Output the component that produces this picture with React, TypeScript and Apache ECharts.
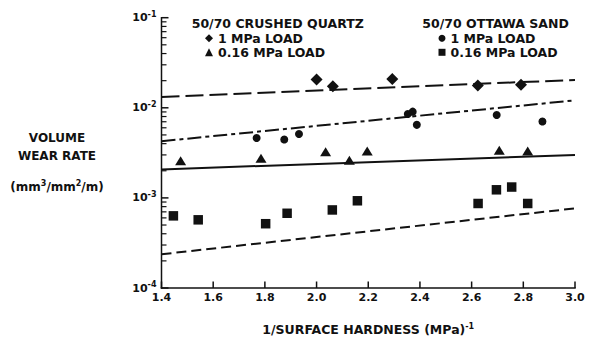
import React, { useEffect, useRef } from 'react';
import * as echarts from 'echarts';

const FONT = '"DejaVu Sans", "Liberation Sans", sans-serif';
const INK = '#111111';

// Axis tick labels
const xTickLabels = ['1.4', '1.6', '1.8', '2.0', '2.2', '2.4', '2.6', '2.8', '3.0'];
const yTickExponents = ['-4', '-3', '-2', '-1'];
const yMinorMultipliers = [2, 3, 4, 5, 6, 7, 8, 9];

// Data points [1/surface hardness, volume wear rate]
const quartz1MPa = [[2.0, 0.0206], [2.063, 0.0174], [2.293, 0.0209], [2.624, 0.0177], [2.791, 0.018]];
const quartz016MPa = [[1.474, 0.00258], [1.785, 0.00275], [2.035, 0.00326], [2.127, 0.00262], [2.196, 0.00332], [2.707, 0.00337], [2.817, 0.00332]];
const ottawa1MPa = [[1.768, 0.00463], [1.875, 0.00444], [1.932, 0.00513], [2.353, 0.00853], [2.372, 0.00906], [2.388, 0.00647], [2.697, 0.00832], [2.874, 0.00705]];
const ottawa016MPa = [[1.446, 0.000632], [1.542, 0.000571], [1.803, 0.000517], [1.886, 0.000675], [2.061, 0.000735], [2.158, 0.000929], [2.625, 0.000867], [2.696, 0.00123], [2.755, 0.00132], [2.817, 0.000867]];

// Fit lines (end points)
const fitQuartz1MPa = [[1.4, 0.0132], [3.0, 0.0204]];
const fitOttawa1MPa = [[1.4, 0.00426], [3.0, 0.0121]];
const fitQuartz016MPa = [[1.4, 0.00207], [3.0, 0.003]];
const fitOttawa016MPa = [[1.4, 0.000237], [3.0, 0.000765]];

const seriesNames = ['Quartz 1 MPa', 'Quartz 0.16 MPa', 'Ottawa 1 MPa', 'Ottawa 0.16 MPa'];
const legendLabels: Record<string, string> = {
  'Quartz 1 MPa': '1 MPa LOAD',
  'Quartz 0.16 MPa': '0.16 MPa LOAD',
  'Ottawa 1 MPa': '1 MPa LOAD',
  'Ottawa 0.16 MPa': '0.16 MPa LOAD',
};

const X_MIN = 1.4;
const X_MAX = 3.0;
const Y_MIN = 1e-4;
const Y_MAX = 1e-1;

export default function App() {
  const ref = useRef<HTMLDivElement>(null);

  useEffect(() => {
    if (!ref.current) return;
    const chart = echarts.init(ref.current, undefined, { renderer: 'svg' });

    // Axis frame marks: [x, y, kind] ; kind 0 = y major tick, 1 = y minor tick,
    // 2 = x tick, 3 = y axis line, 4 = x axis line
    const frame: number[][] = [];
    frame.push([X_MIN, Y_MIN, 3]);
    frame.push([X_MIN, Y_MIN, 4]);
    xTickLabels.forEach((t) => frame.push([Number(t), Y_MIN, 2]));
    yTickExponents.forEach((e) => {
      const decade = Math.pow(10, Number(e));
      frame.push([X_MIN, decade, 0]);
      if (decade < Y_MAX) yMinorMultipliers.forEach((m) => frame.push([X_MIN, decade * m, 1]));
    });

    const supRich = {
      s: { fontSize: 8, fontWeight: 'bold', fontFamily: FONT, color: INK, padding: [0, 0, 7, 0] },
      b: { fontSize: 11, fontWeight: 'bold', fontFamily: FONT, color: INK },
    };

    const legendText = {
      fontSize: 12.5,
      fontWeight: 'bold',
      fontFamily: FONT,
      color: INK,
      lineHeight: 14,
    };

    const fitLine = (data: number[][], type: any) => ({
      type: 'line',
      data,
      symbol: 'none',
      silent: true,
      lineStyle: { color: INK, width: 2, type },
      z: 2,
    });

    const scatter = (name: string, data: number[][], symbol: string, symbolSize: any) => ({
      name,
      type: 'scatter',
      data,
      symbol,
      symbolSize,
      itemStyle: { color: INK, opacity: 1 },
      z: 3,
    });

    const option: any = {
      animation: false,
      backgroundColor: '#ffffff',
      grid: { left: 161.5, right: 14, top: 17.7, bottom: 48.3 },
      xAxis: {
        type: 'value',
        min: X_MIN,
        max: X_MAX,
        interval: 0.2,
        axisLine: { show: false },
        axisTick: { show: false },
        splitLine: { show: false },
        axisLabel: {
          margin: 4,
          color: INK,
          fontSize: 11,
          fontWeight: 'bold',
          fontFamily: FONT,
          formatter: (v: number) => xTickLabels.find((s) => Math.abs(Number(s) - v) < 1e-6) ?? '',
        },
        name: '1/SURFACE HARDNESS (MPa){s|-1}',
        nameLocation: 'middle',
        nameGap: 34,
        nameTextStyle: {
          color: INK,
          fontSize: 12.5,
          fontWeight: 'bold',
          fontFamily: FONT,
          rich: { s: { fontSize: 8, fontWeight: 'bold', fontFamily: FONT, color: INK, padding: [0, 0, 7, 0] } },
        },
      },
      yAxis: {
        type: 'log',
        logBase: 10,
        min: Y_MIN,
        max: Y_MAX,
        axisLine: { show: false },
        axisTick: { show: false },
        minorTick: { show: false },
        splitLine: { show: false },
        axisLabel: {
          margin: 5,
          color: INK,
          formatter: (v: number) => {
            const e = yTickExponents.find((s) => Number(s) === Math.round(Math.log10(v)));
            return e ? `{b|10}{s|${e}}` : '';
          },
          rich: supRich,
        },
      },
      legend: [
        {
          data: seriesNames.slice(0, 2),
          orient: 'vertical',
          left: 205,
          top: 31.3,
          padding: 0,
          itemGap: 0,
          itemWidth: 8,
          itemHeight: 8,
          selectedMode: false,
          formatter: (n: string) => legendLabels[n],
          textStyle: legendText,
        },
        {
          data: seriesNames.slice(2, 4),
          orient: 'vertical',
          left: 438.5,
          top: 31.3,
          padding: 0,
          itemGap: 0,
          itemWidth: 7,
          itemHeight: 7,
          selectedMode: false,
          formatter: (n: string) => legendLabels[n],
          textStyle: legendText,
        },
      ],
      graphic: [
        {
          type: 'text',
          x: 191.7,
          y: 23.3,
          style: { text: '50/70 CRUSHED QUARTZ', fill: INK, fontSize: 12.5, fontWeight: 'bold', fontFamily: FONT, align: 'left', verticalAlign: 'middle' },
        },
        {
          type: 'text',
          x: 422.3,
          y: 23.3,
          style: { text: '50/70 OTTAWA SAND', fill: INK, fontSize: 12.5, fontWeight: 'bold', fontFamily: FONT, align: 'left', verticalAlign: 'middle' },
        },
        {
          type: 'text',
          x: 57,
          y: 137.7,
          style: { text: 'VOLUME', fill: INK, fontSize: 12, fontWeight: 'bold', fontFamily: FONT, align: 'center', verticalAlign: 'middle' },
        },
        {
          type: 'text',
          x: 57,
          y: 156,
          style: { text: 'WEAR RATE', fill: INK, fontSize: 12, fontWeight: 'bold', fontFamily: FONT, align: 'center', verticalAlign: 'middle' },
        },
        {
          type: 'text',
          x: 57,
          y: 186.7,
          style: {
            text: '{t|(mm}{s|3}{t|/mm}{s|2}{t|/m)}',
            fill: INK,
            fontSize: 12,
            fontWeight: 'bold',
            fontFamily: FONT,
            align: 'center',
            verticalAlign: 'middle',
            rich: {
              t: { fontSize: 12, fontWeight: 'bold', fontFamily: FONT, fill: INK },
              s: { fontSize: 8, fontWeight: 'bold', fontFamily: FONT, fill: INK, padding: [0, 0, 7, 0] },
            },
          },
        },
      ],
      series: [
        fitLine(fitQuartz1MPa, [18, 6]),
        fitLine(fitOttawa1MPa, [14, 4, 4, 4]),
        fitLine(fitQuartz016MPa, 'solid'),
        fitLine(fitOttawa016MPa, [10, 5]),
        scatter(seriesNames[0], quartz1MPa, 'diamond', [12, 12]),
        scatter(seriesNames[1], quartz016MPa, 'triangle', [11, 9]),
        scatter(seriesNames[2], ottawa1MPa, 'circle', 8),
        scatter(seriesNames[3], ottawa016MPa, 'rect', 9.5),
        {
          type: 'custom',
          data: frame,
          encode: { x: 0, y: 1 },
          renderItem: (_p: any, api: any) => {
            const kind = api.value(2);
            const p = api.coord([api.value(0), api.value(1)]);
            let shape: any;
            if (kind === 0) {
              shape = { x: p[0], y: p[1] - 0.75, width: 7, height: 1.5 };
            } else if (kind === 1) {
              shape = { x: p[0], y: p[1] - 0.6, width: 5, height: 1.2 };
            } else if (kind === 2) {
              shape = { x: p[0] - 0.75, y: p[1] - 6.5, width: 1.5, height: 6.5 };
            } else if (kind === 3) {
              const top = api.coord([X_MIN, Y_MAX]);
              shape = { x: p[0] - 0.75, y: top[1] - 0.75, width: 1.5, height: p[1] - top[1] + 1.5 };
            } else {
              const right = api.coord([X_MAX, Y_MIN]);
              shape = { x: p[0] - 0.75, y: p[1] - 0.75, width: right[0] - p[0] + 1.5, height: 1.5 };
            }
            return { type: 'rect', shape, style: { fill: INK } };
          },
          z: 5,
        },
      ],
    };

    chart.setOption(option);
    return () => chart.dispose();
  }, []);

  return (
    <div
      ref={ref}
      style={{ position: 'fixed', left: 0, top: 0, width: 589, height: 341, background: '#fff' }}
    />
  );
}
